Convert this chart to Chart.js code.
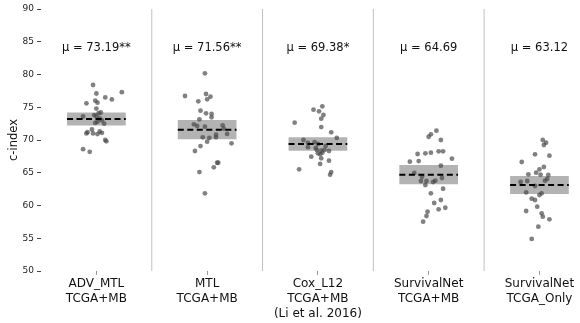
<!DOCTYPE html>
<html>
<head>
<meta charset="utf-8">
<script src="https://cdn.jsdelivr.net/npm/chart.js@4/dist/chart.umd.min.js"></script>
<style>
html,body{margin:0;padding:0;background:#fff;}
#wrap{width:580px;height:323px;}
</style>
</head>
<body>
<div id="wrap"><canvas id="c" width="580" height="323"></canvas></div>
<script>
// ---- data ----
const categories = [
  ['ADV_MTL','TCGA+MB'],
  ['MTL','TCGA+MB'],
  ['Cox_L12','TCGA+MB','(Li et al. 2016)'],
  ['SurvivalNet','TCGA+MB'],
  ['SurvivalNet','TCGA_Only']
];
const means = [73.19, 71.56, 69.38, 64.69, 63.12];
const stars = ['**', '**', '*', '', ''];
const boxLow  = [72.2, 70.1, 68.37, 63.24, 61.76];
const boxHigh = [74.2, 73.05, 70.41, 66.18, 64.5];
const yTicks = [50, 55, 60, 65, 70, 75, 80, 85, 90];

const advMtlValues = [78.4,77.3,77.1,76.5,76.2,76.0,75.7,75.6,74.8,74.2,74.1,73.8,73.6,73.6,73.3,73.0,72.8,72.6,72.5,71.6,71.3,71.2,71.1,71.0,71.0,70.9,70.0,69.8,68.6,68.2];
const advMtlJitter = [-0.03,0.23,0.0,0.08,0.14,-0.01,0.01,-0.09,0.0,0.04,0.02,-0.02,-0.12,0.0,0.03,0.05,0.01,-0.01,0.07,-0.04,0.03,-0.08,0.05,-0.09,-0.03,0.01,0.08,0.09,-0.12,-0.06];

const mtlValues = [80.18,76.72,77.02,76.61,76.21,75.9,74.47,74.07,73.97,73.46,73.16,72.4,72.14,72.03,72.24,71.73,70.92,70.81,70.41,70.41,70.31,69.74,69.5,69.08,68.32,66.53,66.53,65.83,65.11,61.86];
const mtlJitter = [-0.02,-0.20,-0.01,0.03,0.0,-0.08,-0.06,-0.01,0.04,0.04,-0.07,-0.12,-0.09,-0.02,0.14,0.15,0.18,0.08,0.08,-0.04,0.02,0.0,0.22,-0.06,-0.11,0.10,0.09,0.06,-0.07,-0.02];

const coxValues = [75.14,74.63,74.38,73.82,73.25,72.64,71.98,71.17,70.31,70.0,69.69,69.54,69.39,69.1,68.9,68.78,68.47,68.47,68.37,68.32,68.06,67.97,67.82,67.45,67.2,66.84,66.34,65.53,65.11,64.7];
const coxJitter = [0.04,-0.04,0.01,0.05,0.03,-0.21,0.03,0.12,0.17,-0.13,-0.03,-0.09,0.0,0.07,-0.09,-0.02,-0.01,0.06,0.03,0.10,0.04,0.0,0.02,-0.06,0.03,0.10,0.02,-0.17,0.12,0.11];

const survMbValues = [71.42,70.87,70.5,70.0,67.86,67.97,68.06,68.27,68.27,67.15,66.69,66.79,66.08,64.96,64.4,64.2,63.74,63.74,63.13,63.59,63.79,62.56,61.86,60.84,60.38,59.66,59.42,59.05,58.4,57.53];
const survMbJitter = [0.07,0.02,0.0,0.11,-0.10,-0.03,0.02,0.09,0.13,0.21,-0.17,-0.09,0.11,-0.13,-0.06,0.12,-0.07,-0.02,-0.03,0.04,0.06,0.13,0.02,0.11,0.05,0.15,0.09,-0.01,-0.02,-0.05];

const survTcgaValues = [70.0,69.59,69.24,67.82,67.6,66.64,65.88,65.52,65.01,64.76,64.7,64.66,64.05,63.79,63.74,63.59,62.98,62.0,61.86,61.6,61.04,60.84,59.82,59.16,58.8,58.29,57.89,56.76,54.89];
const survTcgaJitter = [0.03,0.06,0.04,-0.04,0.09,-0.16,0.04,0.0,-0.03,-0.10,0.01,0.08,0.07,0.05,-0.11,-0.17,-0.04,-0.12,0.02,0.0,-0.07,-0.04,-0.02,-0.12,0.02,0.03,0.09,-0.01,-0.07];

const seriesValues = [advMtlValues, mtlValues, coxValues, survMbValues, survTcgaValues];
const seriesJitter = [advMtlJitter, mtlJitter, coxJitter, survMbJitter, survTcgaJitter];

// ---- build datasets ----
const FONT = 'DejaVu Sans';
const HALF = 0.265;
const points = [];
seriesValues.forEach((vals, i) => {
  vals.forEach((v, k) => points.push({x: i + seriesJitter[i][k], y: v}));
});

const datasets = [];
// separators between categories
for (let i = 0; i < categories.length - 1; i++) {
  datasets.push({
    type: 'line', order: 5,
    data: [{x: i + 0.5, y: yTicks[0]}, {x: i + 0.5, y: yTicks[yTicks.length - 1]}],
    borderColor: '#c0c0c0', borderWidth: 1, pointRadius: 0, fill: false
  });
}
// CI boxes
datasets.push({
  type: 'bar', order: 4,
  data: categories.map((c, i) => ({x: i, y: [boxLow[i], boxHigh[i]]})),
  backgroundColor: '#b3b3b3', borderWidth: 0,
  barPercentage: 1.0, categoryPercentage: 0.53
});
// points
datasets.push({
  type: 'scatter', order: 2,
  data: points,
  backgroundColor: 'rgba(70,70,70,0.68)', borderWidth: 0,
  pointRadius: 2.4
});
// mean lines
means.forEach((m, i) => {
  datasets.push({
    type: 'line', order: 1,
    data: [{x: i - HALF, y: m}, {x: i + HALF, y: m}],
    borderColor: '#000', borderWidth: 2, borderDash: [6, 3.5],
    pointRadius: 0, fill: false
  });
});

const annotate = {
  id: 'annotate',
  afterDatasetsDraw(chart) {
    const {ctx, scales: {x, y}} = chart;
    ctx.save();
    ctx.fillStyle = '#111';
    ctx.font = '11.5px "' + FONT + '"';
    ctx.textAlign = 'center';
    ctx.textBaseline = 'middle';
    means.forEach((m, i) => {
      ctx.fillText('\u03bc = ' + m.toFixed(2) + stars[i], x.getPixelForValue(i), y.getPixelForValue(84.05));
    });
    ctx.restore();
  }
};
const bg = {
  id: 'bg',
  beforeDraw(chart) {
    const ctx = chart.ctx;
    ctx.save(); ctx.fillStyle = '#fff'; ctx.fillRect(0, 0, chart.width, chart.height); ctx.restore();
  }
};

new Chart(document.getElementById('c'), {
  type: 'scatter',
  data: {datasets},
  options: {
    responsive: false,
    devicePixelRatio: 1,
    animation: false,
    layout: {padding: {top: 9, right: 0, left: 0, bottom: 0}},
    plugins: {legend: {display: false}, tooltip: {enabled: false}},
    scales: {
      x: {
        type: 'linear', min: -0.5, max: 4.33, offset: false,
        afterBuildTicks: s => { s.ticks = categories.map((c, i) => ({value: i})); },
        afterFit: s => { s.height = 52; },
        border: {display: false},
        grid: {drawOnChartArea: false, drawTicks: true, tickLength: 4, tickColor: '#999', offset: false},
        ticks: {
          autoSkip: false, maxRotation: 0, padding: 2,
          color: '#111',
          font: {family: FONT, size: 12, lineHeight: 1.22},
          callback: v => categories[v] || ''
        }
      },
      y: {
        type: 'linear', min: 50, max: 90,
        afterBuildTicks: s => { s.ticks = yTicks.map(v => ({value: v})); },
        afterFit: s => { s.width = 41; },
        border: {display: false},
        grid: {drawOnChartArea: false, drawTicks: true, tickLength: 4, tickColor: '#444'},
        ticks: {padding: 3, color: '#222', font: {family: FONT, size: 9}},
        title: {display: true, text: 'c-index', color: '#111', font: {family: FONT, size: 11.5}, padding: {top: 7, bottom: 0}}
      }
    }
  },
  plugins: [bg, annotate]
});
</script>
</body>
</html>
